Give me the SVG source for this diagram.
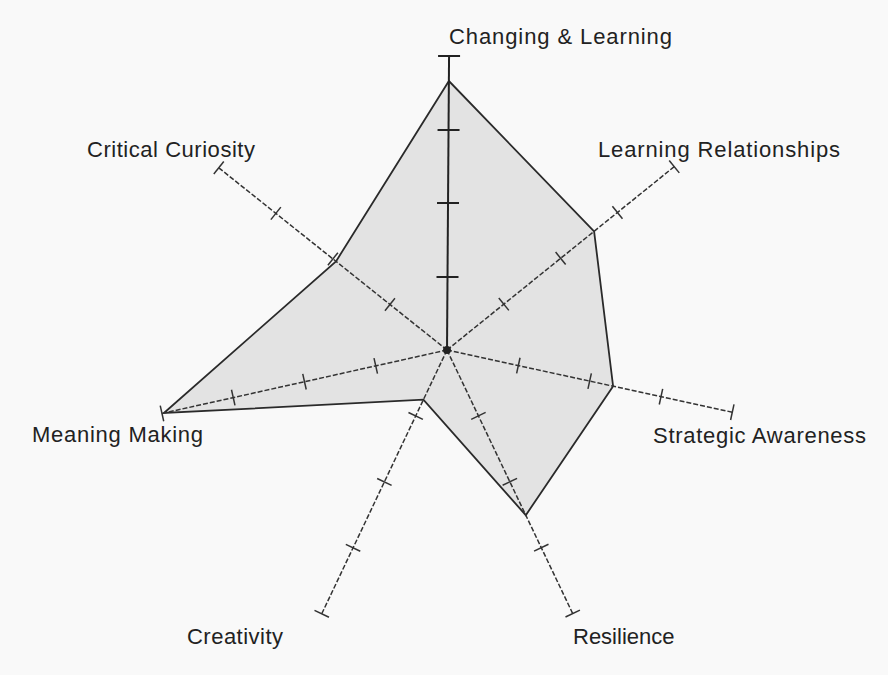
<svg xmlns="http://www.w3.org/2000/svg" width="888" height="675" viewBox="0 0 888 675">
<defs>
<style>
.lbl{font-family:"Liberation Sans",Arial,sans-serif;font-size:22px;fill:#222}
.ax{stroke:#333;stroke-width:1.5;fill:none;stroke-dasharray:5 2}
.axs{stroke:#222;stroke-width:2;fill:none}
.tk{stroke:#333;stroke-width:1.5}
.tks{stroke:#222;stroke-width:2}
.area{fill:#e3e3e3;stroke:#2a2a2a;stroke-width:1.8;stroke-linejoin:miter}
</style>
<g id="dashedAxis">
<line class="ax" x1="0" y1="0" x2="0" y2="-292"/>
<line class="tk" x1="-8" y1="-73" x2="8" y2="-73"/>
<line class="tk" x1="-8" y1="-146" x2="8" y2="-146"/>
<line class="tk" x1="-8" y1="-219" x2="8" y2="-219"/>
<line class="tk" x1="-8" y1="-292" x2="8" y2="-292"/>
</g>
</defs>
<rect width="888" height="675" fill="#f9f9f9"/>
<g id="area">
<polygon class="area" points="448.9,81 594.1,231.3 613.1,386.2 525.8,515.2 423.4,399.7 163.9,413 336,261.4"/>
</g>
<g id="connectors">
<g id="axis-changing-learning" transform="translate(447,350) rotate(0.4)">
<line class="axs" x1="0" y1="0" x2="0" y2="-294"/>
<line class="tks" x1="-11" y1="-73" x2="11" y2="-73"/>
<line class="tks" x1="-11" y1="-147" x2="11" y2="-147"/>
<line class="tks" x1="-11" y1="-220" x2="11" y2="-220"/>
<line class="tks" x1="-11" y1="-294" x2="11" y2="-294"/>
</g>
<use id="axis-learning-relationships" href="#dashedAxis" transform="translate(447,350) rotate(51.1)"/>
<use id="axis-strategic-awareness" href="#dashedAxis" transform="translate(447,350) rotate(102.3)"/>
<use id="axis-resilience" href="#dashedAxis" transform="translate(447,350) rotate(154.5)"/>
<use id="axis-creativity" href="#dashedAxis" transform="translate(447,350) rotate(205.4)"/>
<use id="axis-meaning-making" href="#dashedAxis" transform="translate(447,350) rotate(257.45)"/>
<use id="axis-critical-curiosity" href="#dashedAxis" transform="translate(447,350) rotate(308.6)"/>
<circle cx="447" cy="350" r="4" fill="#222"/>
</g>
<g id="node-changing-learning"><text class="lbl" x="449" y="44" textLength="223" lengthAdjust="spacing">Changing &amp; Learning</text></g>
<g id="node-critical-curiosity"><text class="lbl" x="87" y="157" textLength="168" lengthAdjust="spacing">Critical Curiosity</text></g>
<g id="node-learning-relationships"><text class="lbl" x="598" y="157" textLength="242" lengthAdjust="spacing">Learning Relationships</text></g>
<g id="node-meaning-making"><text class="lbl" x="32" y="442" textLength="171" lengthAdjust="spacing">Meaning Making</text></g>
<g id="node-strategic-awareness"><text class="lbl" x="653" y="443" textLength="213" lengthAdjust="spacing">Strategic Awareness</text></g>
<g id="node-creativity"><text class="lbl" x="187" y="644" textLength="96" lengthAdjust="spacing">Creativity</text></g>
<g id="node-resilience"><text class="lbl" x="573" y="644">Resilience</text></g>
</svg>
